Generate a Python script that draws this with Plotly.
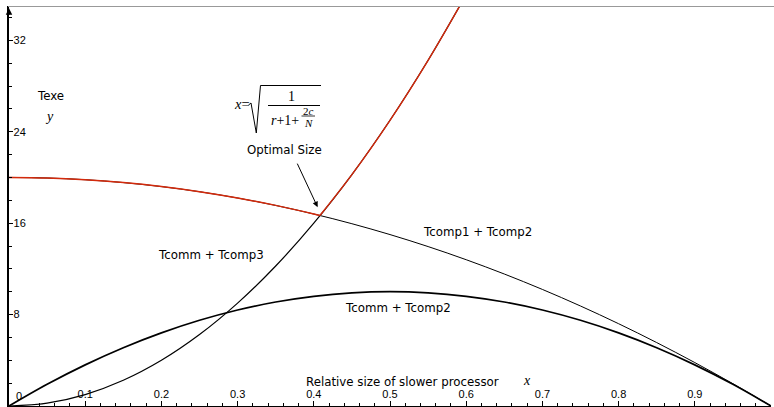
import plotly.graph_objects as go

# ---- data ----
x_vals = [0.00, 0.05, 0.10, 0.15, 0.20, 0.25, 0.30, 0.35, 0.40, 0.45, 0.50,
          0.55, 0.60, 0.65, 0.70, 0.75, 0.80, 0.85, 0.90, 0.95, 1.00]
tcomp12 = [20.00, 19.95, 19.80, 19.55, 19.20, 18.75, 18.20, 17.55, 16.80, 15.95, 15.00,
           13.95, 12.80, 11.55, 10.20, 8.75, 7.20, 5.55, 3.80, 1.95, 0.00]
tcomm_tcomp2 = [0.0, 1.9, 3.6, 5.1, 6.4, 7.5, 8.4, 9.1, 9.6, 9.9, 10.0,
                9.9, 9.6, 9.1, 8.4, 7.5, 6.4, 5.1, 3.6, 1.9, 0.0]
x_steep = [0.00, 0.05, 0.10, 0.15, 0.20, 0.25, 0.30, 0.35, 0.40, 0.45, 0.50, 0.55, 0.60]
tcomm_tcomp3 = [0.0, 0.25, 1.0, 2.25, 4.0, 6.25, 9.0, 12.25, 16.0, 20.25, 25.0, 30.25, 36.0]
# Texe = upper envelope (red): left part on Tcomp1+Tcomp2, right part on Tcomm+Tcomp3
texe_left_x = [0.00, 0.05, 0.10, 0.15, 0.20, 0.25, 0.30, 0.35, 0.40, 0.408]
texe_left_y = [20.00, 19.95, 19.80, 19.55, 19.20, 18.75, 18.20, 17.55, 16.80, 16.67]
texe_right_x = [0.408, 0.45, 0.50, 0.55, 0.60]
texe_right_y = [16.67, 20.25, 25.0, 30.25, 36.0]
optimal = (0.405, 17.4)

x_ticks = [0.1, 0.2, 0.3, 0.4, 0.5, 0.6, 0.7, 0.8, 0.9]
x_tick_text = ["0.1", "0.2", "0.3", "0.4", "0.5", "0.6", "0.7", "0.8", "0.9"]
y_ticks = [8, 16, 24, 32]
y_tick_text = ["8", "16", "24", "32"]

W, H = 774, 407
ML, MR, MT, MB = 9, 3, 6, 1
PW, PH = W - ML - MR, H - MT - MB


def px(xp):
    return (xp - ML) / PW


def py(yp):
    return (H - MB - yp) / PH


SANS = "DejaVu Sans, Lucida Grande, sans-serif"
TICKF = "Liberation Sans, Arial, sans-serif"
SERIF = "Liberation Serif, Times New Roman, serif"
RED = "#d42a0c"

fig = go.Figure()
fig.add_trace(go.Scatter(x=x_vals, y=tcomp12, mode="lines",
                         line=dict(color="black", width=1, shape="spline"), hoverinfo="skip"))
fig.add_trace(go.Scatter(x=x_vals, y=tcomm_tcomp2, mode="lines",
                         line=dict(color="black", width=1.7, shape="spline"), hoverinfo="skip"))
fig.add_trace(go.Scatter(x=x_steep, y=tcomm_tcomp3, mode="lines",
                         line=dict(color="black", width=1.2, shape="spline"), hoverinfo="skip"))
fig.add_trace(go.Scatter(x=texe_left_x, y=texe_left_y, mode="lines",
                         line=dict(color=RED, width=1.4, shape="spline"), hoverinfo="skip"))
fig.add_trace(go.Scatter(x=texe_right_x, y=texe_right_y, mode="lines",
                         line=dict(color=RED, width=1.4, shape="spline"), hoverinfo="skip"))

annotations = []


def txt(text, xp, yp, size=12, family=SANS, xanchor="center"):
    annotations.append(dict(text=text, x=px(xp), y=py(yp), xref="paper", yref="paper",
                            showarrow=False, xanchor=xanchor, yanchor="middle",
                            font=dict(family=family, size=size, color="black")))


txt("Texe", 50.5, 95.5, 11.8)
txt("<i>y</i>", 49.5, 116, 14, SERIF)
txt("Optimal Size", 284.5, 150, 11.8)
txt("Tcomp1 + Tcomp2", 477.5, 232, 11.8)
txt("Tcomm + Tcomp3", 211, 255, 11.8)
txt("Tcomm + Tcomp2", 397.5, 308, 11.8)
txt("Relative size of slower processor", 402.5, 381.5, 11.8)
txt("<i>x</i>", 527, 380, 14, SERIF)
txt("0", 18.5, 396, 11, TICKF)

# formula x = sqrt(1 / (r + 1 + 2c/N))
txt("<i>x</i>=", 242, 104.5, 14.5, SERIF)
txt("1", 291.5, 96.5, 14, SERIF)
txt("<i>r</i>+1+", 285, 121, 14, SERIF)
txt("2<i>c</i>", 308, 110.5, 11, SERIF)
txt("<i>N</i>", 308.5, 122.5, 11, SERIF)

# arrow pointing to optimal size
annotations.append(dict(x=optimal[0], y=optimal[1], xref="x", yref="y", text="",
                        showarrow=True, ax=-21, ay=-45, arrowhead=2, arrowsize=1.1,
                        arrowwidth=1, arrowcolor="black", standoff=0))
# y axis arrow
annotations.append(dict(x=0, y=34.8, xref="x", yref="y", text="", showarrow=True,
                        ax=0, ay=8, arrowhead=2, arrowsize=1, arrowwidth=1.3,
                        arrowcolor="black", standoff=0))

shapes = [
    # thin grey frame line along the top
    dict(type="line", xref="paper", yref="paper", x0=px(8), x1=px(774),
         y0=py(6.5), y1=py(6.5), layer="above", line=dict(color="#999999", width=1.2)),
    # radical sign
    dict(type="path", xref="paper", yref="paper",
         path="M {:.5f},{:.5f} L {:.5f},{:.5f} L {:.5f},{:.5f} L {:.5f},{:.5f} L {:.5f},{:.5f}".format(
             px(248.5), py(105), px(251), py(103), px(256.3), py(133), px(260.5), py(85.5),
             px(321), py(85.5)),
         line=dict(color="black", width=1)),
    dict(type="line", xref="paper", yref="paper", x0=px(268), x1=px(320),
         y0=py(105.5), y1=py(105.5), line=dict(color="black", width=1)),
    dict(type="line", xref="paper", yref="paper", x0=px(301.5), x1=px(315),
         y0=py(116), y1=py(116), line=dict(color="black", width=0.8)),
]

fig.update_layout(
    width=W, height=H, margin=dict(l=ML, r=MR, t=MT, b=MB, pad=0),
    paper_bgcolor="white", plot_bgcolor="white", showlegend=False,
    annotations=annotations, shapes=shapes,
    xaxis=dict(range=[0, 1], showgrid=False, zeroline=False, showline=True,
               linecolor="black", linewidth=1.5, ticks="inside", ticklen=5,
               tickcolor="black", tickwidth=1, tickvals=x_ticks, ticktext=x_tick_text,
               ticklabelposition="inside",
               tickfont=dict(family=TICKF, size=11, color="black"),
               minor=dict(dtick=0.02, tick0=0, ticks="inside", ticklen=3,
                          tickcolor="black", tickwidth=1, showgrid=False)),
    yaxis=dict(range=[0, 35], showgrid=False, zeroline=False, showline=True,
               linecolor="black", linewidth=1.5, ticks="inside", ticklen=4,
               tickcolor="black", tickwidth=1, tickvals=y_ticks, ticktext=y_tick_text,
               ticklabelposition="inside",
               tickfont=dict(family=TICKF, size=11, color="black"),
               minor=dict(dtick=2, tick0=0, ticks="inside", ticklen=3,
                          tickcolor="black", tickwidth=1, showgrid=False)),
)

fig.write_html("out.html", config={"displayModeBar": False},
               post_script="document.body.style.margin='0px';document.body.style.overflow='hidden';")
